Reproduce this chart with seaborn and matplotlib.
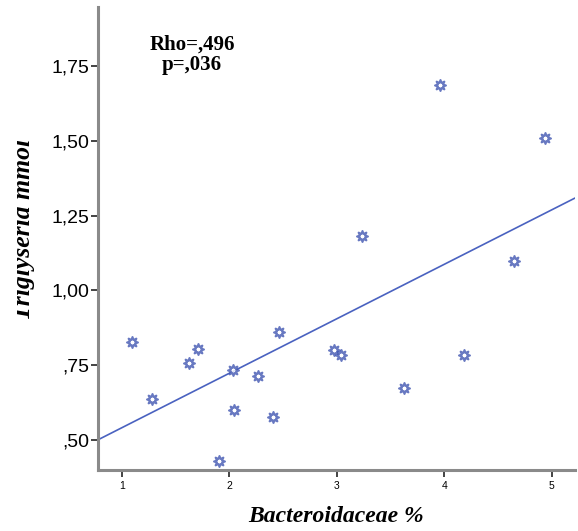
import matplotlib
matplotlib.use("Agg")
import matplotlib.pyplot as plt
import seaborn as sns
import numpy as np
import pandas as pd
from matplotlib.ticker import FuncFormatter
from matplotlib.patches import Rectangle

bacteroidaceae = [1.099, 1.279, 1.629, 1.707, 2.033, 2.048, 1.902, 2.271, 2.463,
                  2.405, 2.975, 3.043, 3.961, 4.941, 3.233, 4.649, 4.181, 3.626]
triglyserid = [0.826, 0.637, 0.756, 0.803, 0.732, 0.600, 0.427, 0.713, 0.860,
               0.574, 0.800, 0.782, 1.689, 1.509, 1.183, 1.099, 0.784, 0.673]
x_ticks = [1, 2, 3, 4, 5]
y_ticks = [0.50, 0.75, 1.00, 1.25, 1.50, 1.75]
annot_text = "Rho=,496\np=,036"
x_label = "Bacteroidaceae %"
y_label = "Triglyserid mmol"

df = pd.DataFrame({"x": bacteroidaceae, "y": triglyserid})

sns.set_style("white")
fig = plt.figure(figsize=(5.78, 5.31), dpi=100)
ax = fig.add_axes([98/578, 1-470/531, (575-98)/578, (470-7)/531])

ax.set_xlim(0.78, 5.217)
ax.set_ylim(0.398, 1.949)

col = "#4257b2"
sns.regplot(data=df, x="x", y="y", ax=ax, ci=None, truncate=False,
            marker=(8, 1, 0),
            scatter_kws=dict(s=62, facecolors="white",
                             edgecolors=col, linewidths=1.5, color=col, zorder=3),
            line_kws=dict(color="#4a62c0", lw=1.2, zorder=2))
ax.set_xlim(0.78, 5.217)
ax.set_ylim(0.398, 1.949)

for s in ["top", "right"]:
    ax.spines[s].set_visible(False)
for s in ["left", "bottom"]:
    ax.spines[s].set_color("#8a8a8a")
    ax.spines[s].set_linewidth(2.2)

ax.set_xticks(x_ticks)
ax.set_yticks(y_ticks)

def yfmt(v, pos):
    s = f"{v:.2f}".replace(".", ",")
    if s.startswith("0"):
        s = s[1:]
    return s

ax.yaxis.set_major_formatter(FuncFormatter(yfmt))
ax.tick_params(axis="y", direction="out", length=5, width=1.2, color="#222222",
               labelsize=14, pad=1, left=True, labelcolor="black")
ax.tick_params(axis="x", direction="out", length=5, width=1.2, color="#222222",
               labelsize=7.5, pad=3, bottom=True, labelcolor="black")
for lab in ax.get_yticklabels() + ax.get_xticklabels():
    lab.set_fontfamily("Liberation Sans")

ax.set_xlabel(x_label, fontfamily="Liberation Serif", fontweight="bold",
              fontstyle="italic", fontsize=17, labelpad=10.5, color="black")
ax.set_ylabel("")

fig.text(35/578, 1-229/531, y_label, rotation=90, ha="right", va="center",
         fontfamily="Liberation Serif", fontweight="bold", fontstyle="italic",
         fontsize=18.5, color="black", zorder=3)
# the reference export cuts off the top of the rotated label
fig.patches.append(Rectangle((0, 0), 17/578, 1, transform=fig.transFigure,
                             facecolor="white", edgecolor="none", zorder=10))

ax.text(192/578, 1-55/531, annot_text, transform=fig.transFigure, ha="center",
        va="center", fontfamily="Liberation Serif", fontweight="bold",
        fontsize=15, linespacing=1.0, color="black")

fig.savefig("out.png", dpi=100)
